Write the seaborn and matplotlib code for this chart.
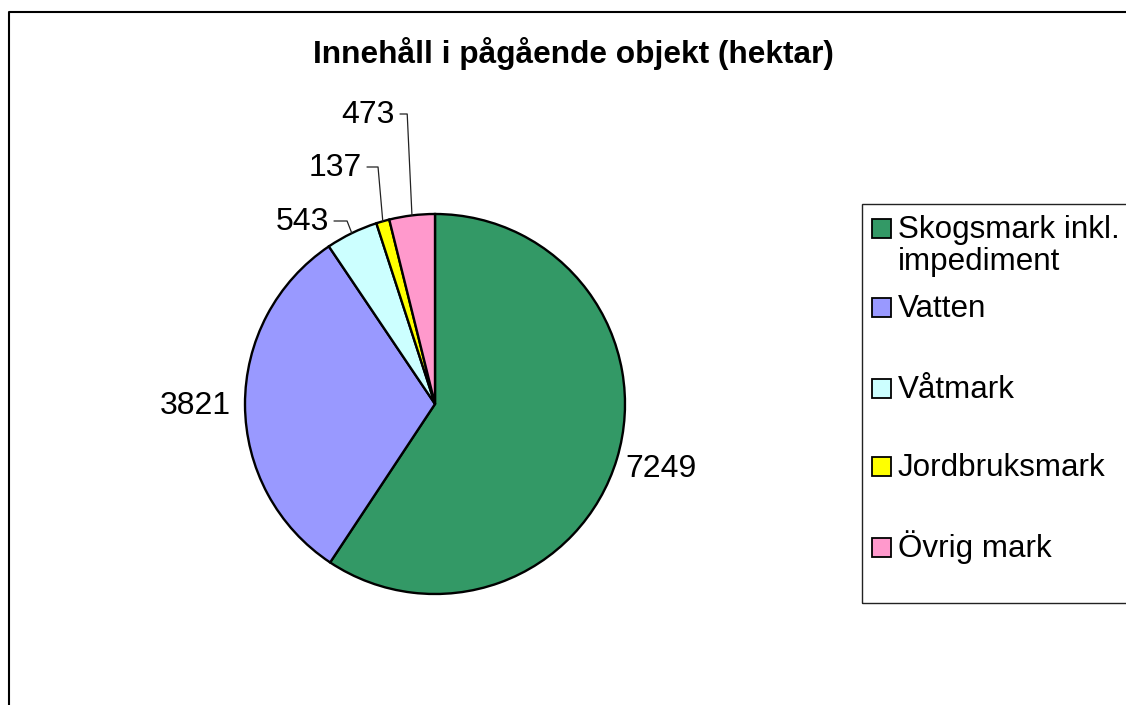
import numpy as np
import matplotlib
matplotlib.use("Agg")
import matplotlib.pyplot as plt
import seaborn as sns
from matplotlib.patches import Rectangle
from matplotlib.lines import Line2D

# ---- data ----
title = "Innehåll i pågående objekt (hektar)"
categories = ["Skogsmark inkl.\nimpediment", "Vatten", "Våtmark", "Jordbruksmark", "Övrig mark"]
values = [7249, 3821, 543, 137, 473]
colors = ["#339966", "#9999FF", "#CCFFFF", "#FFFF00", "#FF99CC"]

sns.set_theme(style="white")
plt.rcParams['font.family'] = ['Liberation Sans', 'DejaVu Sans']

W, H = 1126, 705
FS = 23
FS_LEG = 22.6
FS_TITLE = 22.8
fig = plt.figure(figsize=(W / 100, H / 100), dpi=100)
fig.patch.set_facecolor("white")

cx, cy, R = 435, 404, 190
ax = fig.add_axes([(cx - R) / W, (H - cy - R) / H, 2 * R / W, 2 * R / H])
palette = sns.color_palette(colors)
wedges, _ = ax.pie(values, colors=palette, startangle=90, counterclock=False, radius=1,
                   wedgeprops=dict(edgecolor="black", linewidth=1.7), frame=False)
ax.set_xlim(-1, 1)
ax.set_ylim(-1, 1)
ax.set_aspect("equal")
ax.axis("off")

def px2d(px, py):
    return (px - cx) / R, (cy - py) / R

# label layout: (anchor px x, baseline px y, ha, leader?)
label_layout = [(625, 477, "left", False),
                (231, 414, "right", False),
                (329, 230, "right", True),
                (362, 176, "right", True),
                (395, 123, "right", True)]

for w, v, (lx, ly, ha, leader) in zip(wedges, values, label_layout):
    x, y = px2d(lx, ly)
    ax.text(x, y, f"{v}", ha=ha, va="baseline", fontsize=FS, color="black", clip_on=False)
    if leader:
        mid = np.deg2rad((w.theta1 + w.theta2) / 2)
        rx, ry = np.cos(mid), np.sin(mid)
        hy = y + 9 / R
        xs = [x + 5 / R, rx - 0.025, rx]
        ys = [hy, hy, ry]
        ax.add_line(Line2D(xs, ys, color="#222222", lw=0.9, clip_on=False))

# title
fig.text(573 / W, (H - 63) / H, title, ha="center", va="baseline",
         fontsize=FS_TITLE, fontweight="bold", color="black")

# outer chart border (cropped at right/bottom)
fig.add_artist(Line2D([9 / W, 9 / W, 1.0], [0.0, (H - 12) / H, (H - 12) / H],
                      transform=fig.transFigure, color="black", lw=1.5))

# legend
fig.add_artist(Rectangle((862 / W, (H - 603) / H), (1140 - 862) / W, (603 - 204) / H,
                         transform=fig.transFigure, fill=False, edgecolor="#222222", lw=1.0))
leg_baselines = [238, 317, 398, 476, 557]
sq = 19
for lab, col, base in zip(categories, palette, leg_baselines):
    fig.add_artist(Rectangle((872 / W, (H - base) / H), sq / W, sq / H,
                             transform=fig.transFigure, facecolor=col,
                             edgecolor="black", lw=1.3))
    for i, line in enumerate(lab.split("\n")):
        fig.text(898 / W, (H - base - 32 * i) / H, line, ha="left", va="baseline",
                 fontsize=FS_LEG, color="black")

fig.savefig("out.png", dpi=100, facecolor="white")
